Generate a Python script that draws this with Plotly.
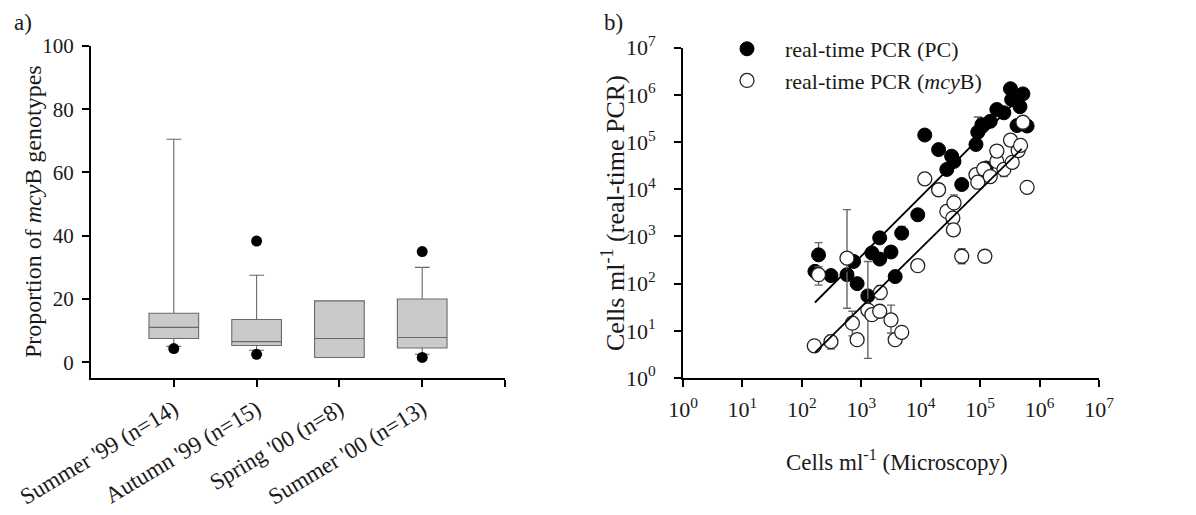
import numpy as np
import plotly.graph_objects as go

# ---------------- panel a) data ----------------
seasons = ["Summer '99 (n=14)", "Autumn '99 (n=15)", "Spring '00 (n=8)", "Summer '00 (n=13)"]
season_pos = [1, 2, 3, 4]
box_q1 = [7.5, 5.3, 1.5, 4.5]
box_median = [11.0, 6.5, 7.5, 7.8]
box_q3 = [15.5, 13.5, 19.4, 20.0]
whisker_low = [5.0, 3.8, 1.5, 2.5]
whisker_high = [70.5, 27.5, 19.4, 30.0]
outlier_pos = [1, 2, 2, 4, 4]
outlier_val = [4.3, 38.3, 2.5, 35.0, 1.5]

# ---------------- panel b) data ----------------
# real-time PCR (PC)
pc_micro = [166, 191, 309, 575, 741, 851, 1290, 1510, 2040, 2040, 3160, 3720, 4790, 8910,
            11700, 20000, 27500, 33100, 36300, 49000, 85100, 91200, 107000, 148000, 126000,
            191000, 251000, 324000, 339000, 468000, 525000, 417000, 617000]
pc_pcr = [182, 407, 148, 155, 295, 100, 55, 447, 933, 331, 468, 141, 1175, 2880,
          141000, 69200, 26300, 50100, 38900, 12600, 89100, 162000, 234000, 275000, 28200,
          490000, 417000, 1350000, 794000, 562000, 1050000, 224000, 219000]
pc_err_hi = [None, 741, None, None, None, None, None, None, None, None, None, None, 1620, None,
             None, None, None, None, None, None, None, 339000, None, None, None,
             None, None, None, None, None, None, None, 260000]
pc_err_lo = [None, None, None, None, None, None, None, None, None, None, None, None, 870, None,
             None, None, None, None, None, None, None, None, None, None, None,
             None, None, None, None, None, None, None, 180000]

# real-time PCR (mcyB)
mcy_micro = [162, 191, 309, 575, 708, 851, 1290, 1510, 2040, 2090, 3160, 3720, 4790, 8910,
             11700, 20000, 27500, 36300, 34700, 35500, 49000, 120000, 85100, 91200, 115000,
             148000, 191000, 191000, 251000, 324000, 347000, 437000, 479000, 525000, 617000]
mcy_pcr = [4.8, 155, 5.9, 347, 14.5, 6.5, 27.5, 22, 26, 65, 17, 6.5, 9.3, 240,
           16600, 9770, 3390, 5130, 2450, 1380, 380, 380, 20400, 14100, 26900,
           18600, 38900, 64600, 26300, 110000, 37200, 66100, 85100, 263000, 11000]
mcy_err_hi = [None, 229, 8.1, 3700, 26, None, 295, None, None, 91, 35, None, None, None,
              None, None, None, 7600, None, None, 550, None, None, None, None,
              None, None, None, 37000, None, 47000, None, None, 324000, None]
mcy_err_lo = [None, 93, 4.1, 30, 7.8, None, 2.6, None, None, 46, 9, None, None, None,
              None, None, None, None, None, None, 263, None, None, 11000, None,
              None, None, None, 18600, None, 28000, None, None, 214000, None]

# regression fits (log10 y = intercept + slope * log10 x)
fit_names = ["PC", "mcyB"]
fit_slope = [1.26, 1.24]
fit_intercept = [-1.197, -2.213]
fit_xmin = [166, 166]
fit_xmax = [390000, 500000]

decades = [0, 1, 2, 3, 4, 5, 6, 7]

FONT = "Liberation Serif"
TXT = "#1a1a1a"
W, H = 1196, 515
OFF = 8  # page body margin


def px_x(p):
    return (p - OFF) / W


def px_y(p):
    return 1 - (p - OFF) / H


def errs(vals, hi, lo):
    plus = [(h - v) if h is not None else 0 for v, h in zip(vals, hi)]
    minus = [(v - l) if l is not None else 0 for v, l in zip(vals, lo)]
    return plus, minus


fig = go.Figure()

# ---- panel a: boxes ----
fig.add_trace(go.Box(
    x=season_pos, q1=box_q1, median=box_median, q3=box_q3,
    lowerfence=whisker_low, upperfence=whisker_high,
    width=0.6, whiskerwidth=0.3, boxpoints=False,
    fillcolor="#c9cacc", line=dict(color="#6a6a6a", width=1.1),
    xaxis="x", yaxis="y", showlegend=False, hoverinfo="skip"))
fig.add_trace(go.Scatter(
    x=outlier_pos, y=outlier_val, mode="markers",
    marker=dict(color="black", size=11),
    xaxis="x", yaxis="y", showlegend=False, hoverinfo="skip"))

# ---- panel b: scatter ----
p_plus, p_minus = errs(pc_pcr, pc_err_hi, pc_err_lo)
fig.add_trace(go.Scatter(
    x=pc_micro, y=pc_pcr, mode="markers", name="real-time PCR (PC)",
    marker=dict(color="black", size=14, line=dict(color="black", width=1)),
    error_y=dict(type="data", symmetric=False, array=p_plus, arrayminus=p_minus,
                 color="#666666", thickness=1.4, width=4),
    xaxis="x2", yaxis="y2"))
m_plus, m_minus = errs(mcy_pcr, mcy_err_hi, mcy_err_lo)
fig.add_trace(go.Scatter(
    x=mcy_micro, y=mcy_pcr, mode="markers", name="real-time PCR (<i>mcy</i>B)",
    marker=dict(color="white", size=14, line=dict(color="#222222", width=1.3)),
    error_y=dict(type="data", symmetric=False, array=m_plus, arrayminus=m_minus,
                 color="#666666", thickness=1.4, width=4),
    xaxis="x2", yaxis="y2"))

for s, b, lo, hi in zip(fit_slope, fit_intercept, fit_xmin, fit_xmax):
    lx = np.linspace(np.log10(lo), np.log10(hi), 20)
    fig.add_trace(go.Scatter(
        x=10 ** lx, y=10 ** (b + s * lx), mode="lines",
        line=dict(color="black", width=1.8),
        xaxis="x2", yaxis="y2", showlegend=False, hoverinfo="skip"))

axis_common = dict(showline=True, linecolor="black", linewidth=2, ticks="outside",
                   ticklen=7, tickwidth=2, tickcolor="black", showgrid=False,
                   zeroline=False, automargin=False)

fig.update_layout(
    width=W, height=H, autosize=False,
    margin=dict(l=0, r=0, t=0, b=0),
    paper_bgcolor="white", plot_bgcolor="white",
    font=dict(family=FONT, color=TXT),
    xaxis=dict(domain=[px_x(91), px_x(505)], range=[0, 5], anchor="y",
               tickvals=season_pos + [5], ticktext=seasons + [""], tickangle=-31,
               ticklabelstandoff=0, tickfont=dict(family=FONT, size=23, color=TXT),
               **axis_common),
    yaxis=dict(domain=[px_y(378), px_y(46)], range=[-5, 100], anchor="x",
               tickvals=[0, 20, 40, 60, 80, 100], ticklabelstandoff=4,
               tickfont=dict(family=FONT, size=21, color=TXT), **axis_common),
    xaxis2=dict(domain=[px_x(683), px_x(1099)], type="log", range=[0, 7], anchor="y2",
                tickvals=[10 ** d for d in decades],
                ticktext=["10<sup>%d</sup>" % d for d in decades],
                ticklabelstandoff=4, tickfont=dict(family=FONT, size=22, color=TXT),
                **axis_common),
    yaxis2=dict(domain=[px_y(378), px_y(47.7)], type="log", range=[0, 7], anchor="x2",
                tickvals=[10 ** d for d in decades],
                ticktext=["10<sup>%d</sup>" % d for d in decades],
                ticklabelstandoff=14, tickfont=dict(family=FONT, size=22, color=TXT),
                **axis_common),
    legend=dict(x=px_x(709), y=px_y(28), xanchor="left", yanchor="top",
                bgcolor="rgba(0,0,0,0)", borderwidth=0, itemwidth=66,
                font=dict(family=FONT, size=22, color=TXT), tracegroupgap=0,
                itemclick=False),
    annotations=[
        dict(text="a)", x=px_x(12), y=px_y(22), xref="paper", yref="paper",
             xanchor="left", yanchor="middle", showarrow=False,
             font=dict(family=FONT, size=23, color=TXT)),
        dict(text="b)", x=px_x(602), y=px_y(22), xref="paper", yref="paper",
             xanchor="left", yanchor="middle", showarrow=False,
             font=dict(family=FONT, size=23, color=TXT)),
        dict(text="Proportion of <i>mcy</i>B genotypes", x=px_x(33), y=px_y(212),
             xref="paper", yref="paper", xanchor="center", yanchor="middle",
             textangle=-90, showarrow=False,
             font=dict(family=FONT, size=24, color=TXT)),
        dict(text="Cells ml<sup>-1</sup> (real-time PCR)", x=px_x(613), y=px_y(213),
             xref="paper", yref="paper", xanchor="center", yanchor="middle",
             textangle=-90, showarrow=False,
             font=dict(family=FONT, size=26, color=TXT)),
        dict(text="Cells ml<sup>-1</sup> (Microscopy)", x=px_x(897), y=px_y(460),
             xref="paper", yref="paper", xanchor="center", yanchor="middle",
             showarrow=False, font=dict(family=FONT, size=23, color=TXT)),
    ],
)

fig.write_html("out.html")
